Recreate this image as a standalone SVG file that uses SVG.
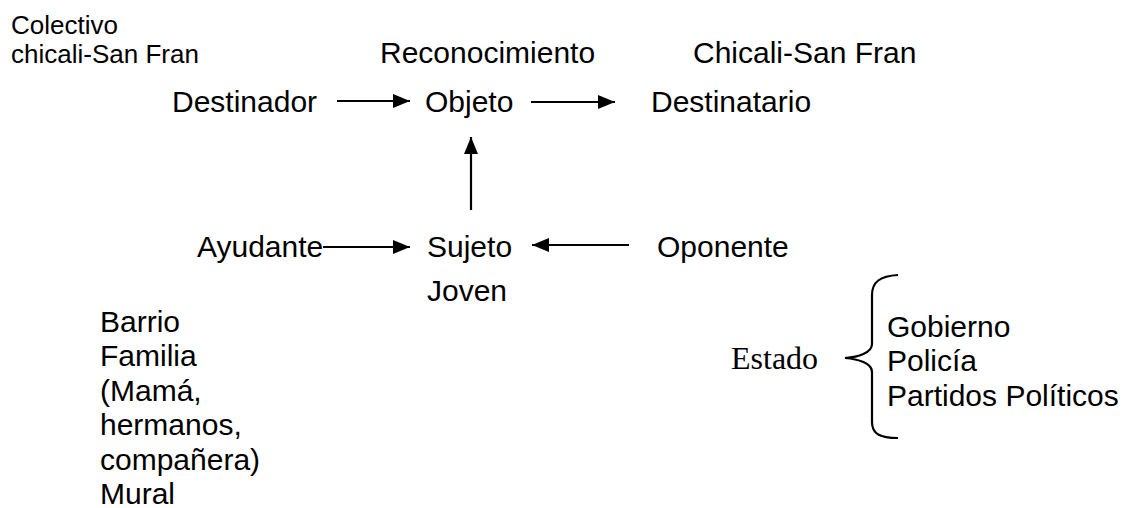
<svg xmlns="http://www.w3.org/2000/svg" width="1127" height="508" viewBox="0 0 1127 508">
<defs>
<style>
text{font-family:"Liberation Sans",Arial,sans-serif;font-size:30px;fill:#000}
.sm{font-size:26px}
.serif{font-family:"Liberation Serif","Times New Roman",serif;font-size:32px}
.conn{stroke:#000;stroke-width:2.2;fill:none}
</style>
<marker id="ah" viewBox="0 0 17 14" refX="17" refY="7" markerWidth="17" markerHeight="14" markerUnits="userSpaceOnUse" orient="auto">
<path d="M0,0 L17,7 L0,14 Z" fill="#000"/>
</marker>
</defs>
<rect width="1127" height="508" fill="#fff"/>
<g id="colectivo"><text class="sm" x="11" y="34">Colectivo</text><text class="sm" x="11" y="63">chicali-San Fran</text></g>
<g id="reconocimiento"><text x="380" y="63">Reconocimiento</text></g>
<g id="chicali"><text x="693" y="63">Chicali-San Fran</text></g>
<g id="destinador"><text x="172" y="112">Destinador</text></g>
<g id="objeto"><text x="425" y="112">Objeto</text></g>
<g id="destinatario"><text x="651" y="112">Destinatario</text></g>
<g id="ayudante"><text x="197" y="257">Ayudante</text></g>
<g id="sujeto"><text x="427" y="257">Sujeto</text><text x="427" y="301">Joven</text></g>
<g id="oponente"><text x="657" y="257">Oponente</text></g>
<g id="ayudantes-lista">
<text x="100" y="332">Barrio</text>
<text x="100" y="366">Familia</text>
<text x="100" y="401">(Mamá,</text>
<text x="100" y="435">hermanos,</text>
<text x="100" y="470">compañera)</text>
<text x="100" y="504">Mural</text>
</g>
<g id="estado">
<text class="serif" x="731" y="369">Estado</text>
<path class="conn" d="M898,275 C880,276 872,282 872,295 L872,344 C872,353 858,357 845,358 C858,359 872,363 872,372 L872,422 C872,434 880,438 898,438"/>
<text x="887" y="337">Gobierno</text>
<text x="887" y="371">Policía</text>
<text x="887" y="406">Partidos Políticos</text>
</g>
<g id="connectors">
<line class="conn" x1="337" y1="101" x2="410" y2="101" marker-end="url(#ah)"/>
<line class="conn" x1="531" y1="102" x2="615" y2="102" marker-end="url(#ah)"/>
<line class="conn" x1="471" y1="210" x2="471" y2="137" marker-end="url(#ah)"/>
<line class="conn" x1="323" y1="247" x2="410" y2="247" marker-end="url(#ah)"/>
<line class="conn" x1="629" y1="245" x2="532" y2="245" marker-end="url(#ah)"/>
</g>
</svg>
